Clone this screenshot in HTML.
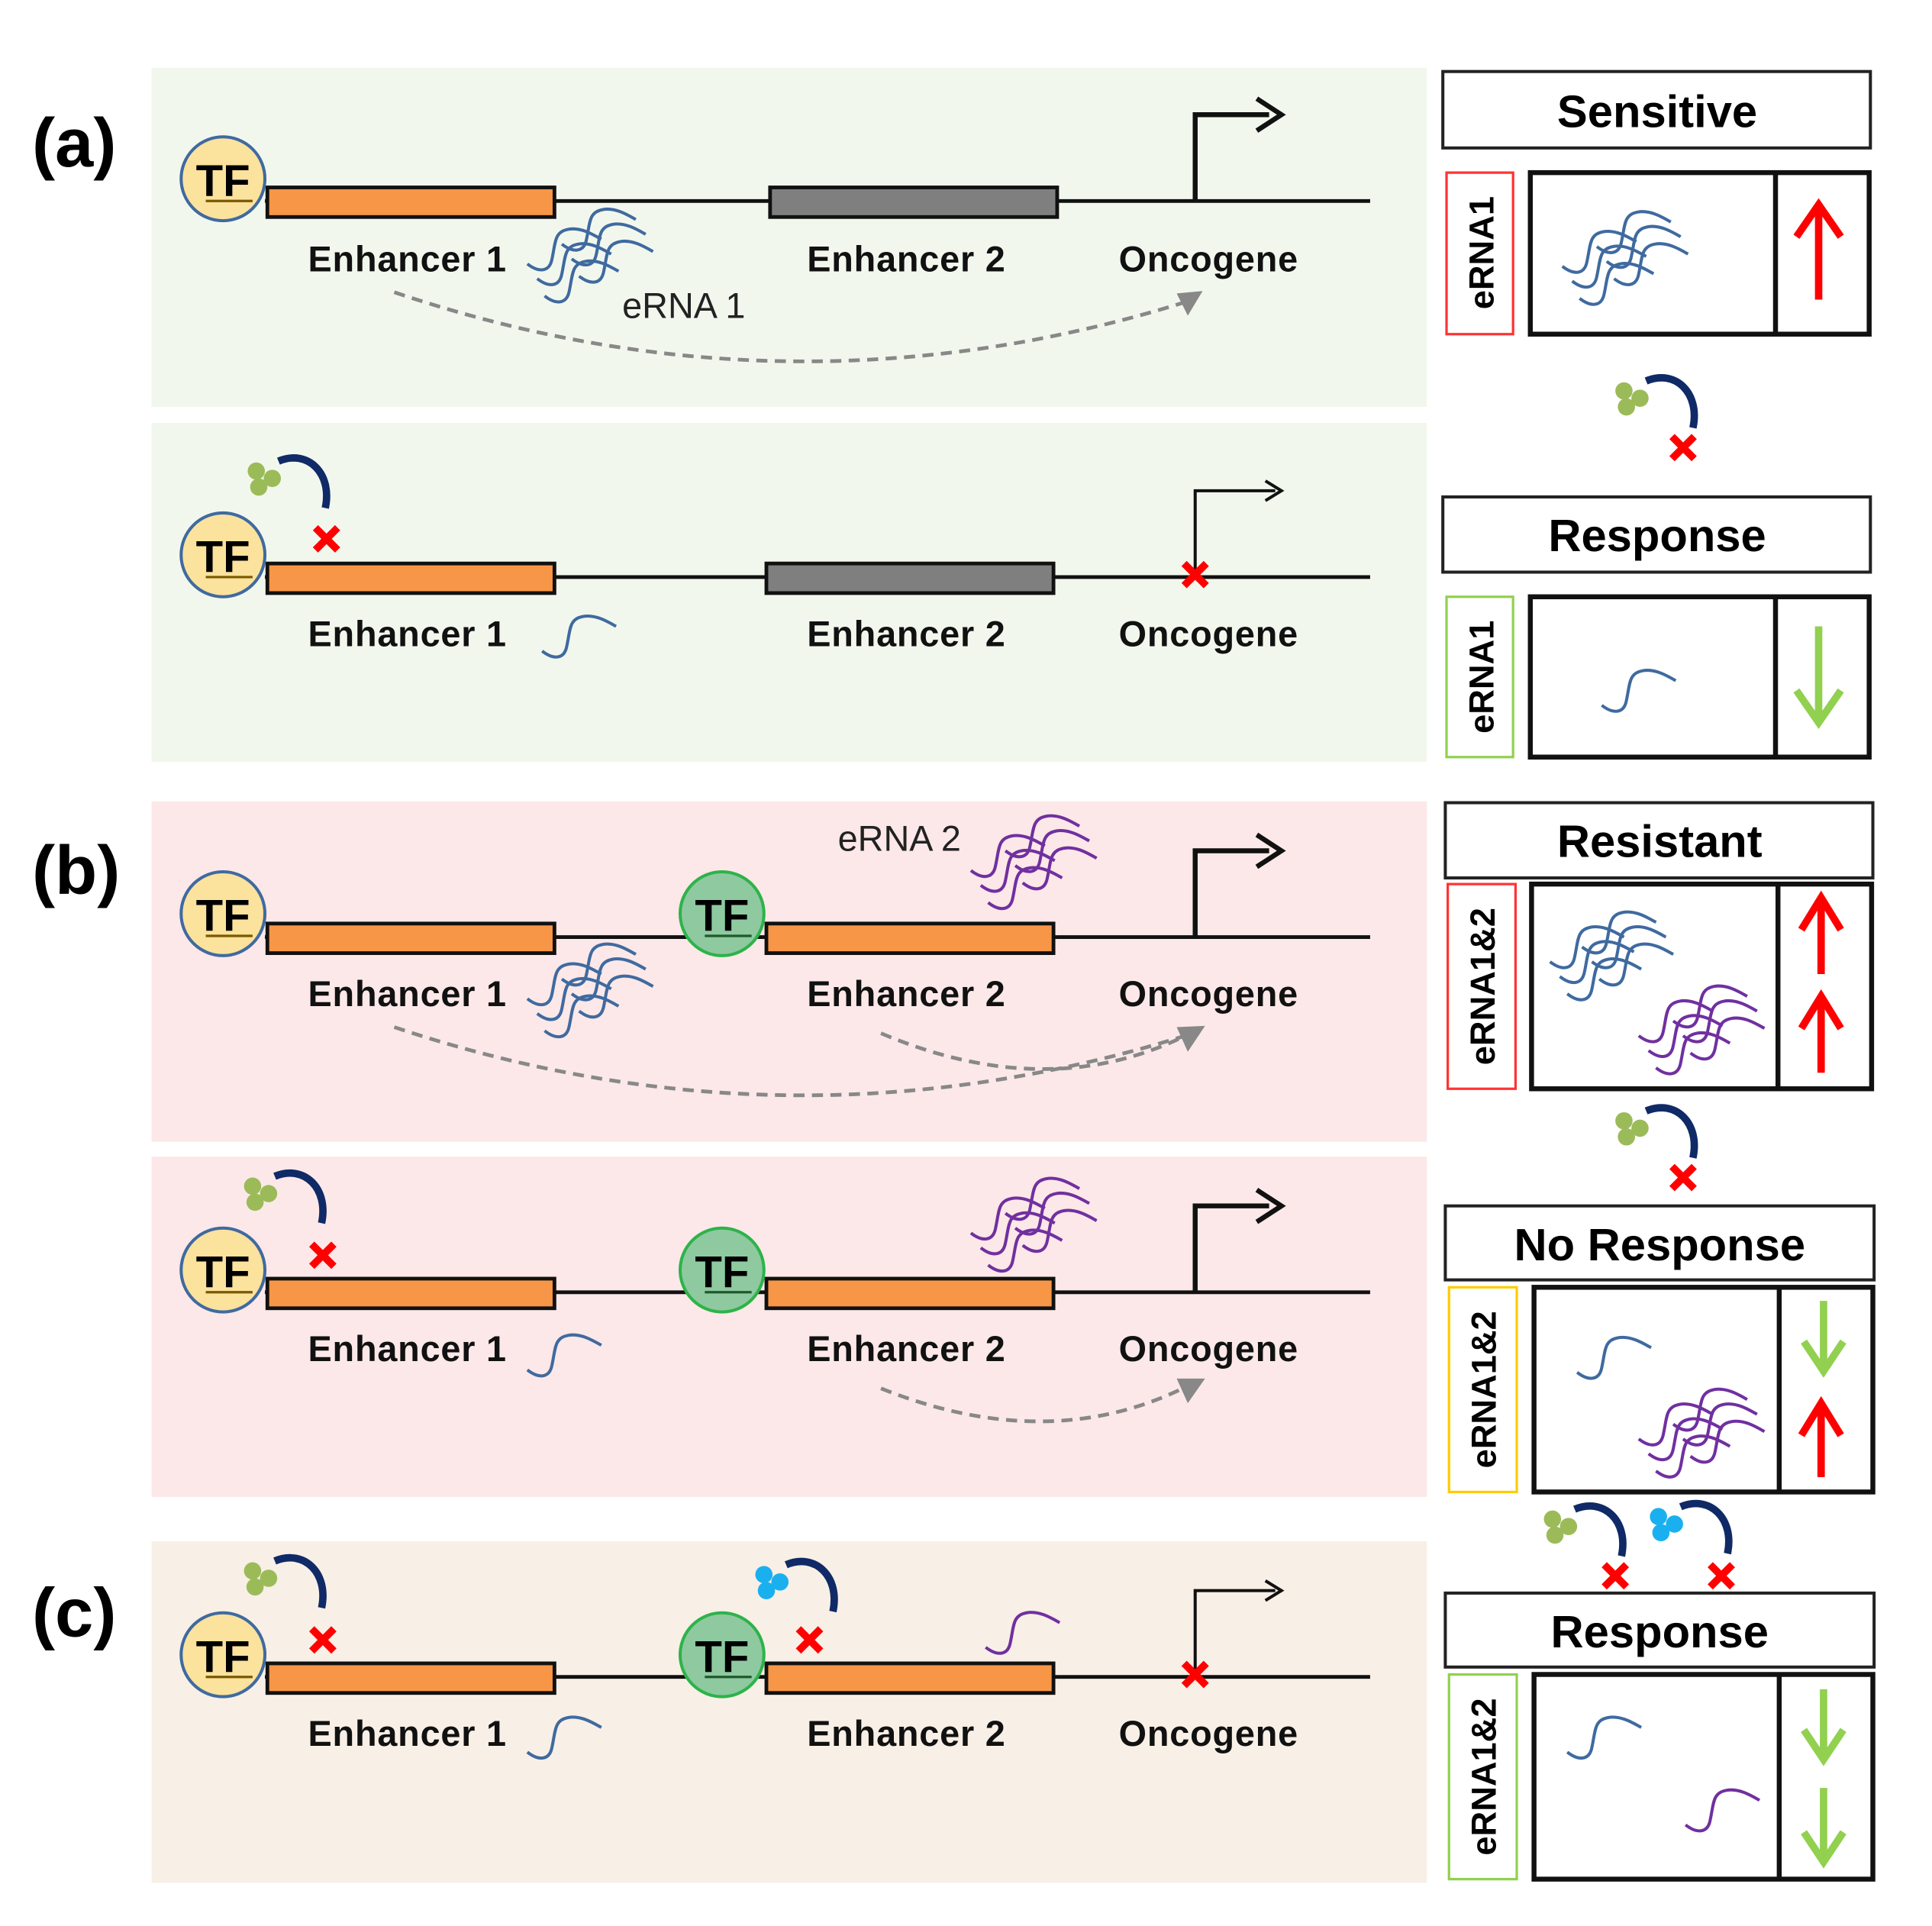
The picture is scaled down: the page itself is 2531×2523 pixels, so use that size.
<!DOCTYPE html>
<html><head><meta charset="utf-8"><style>
html,body{margin:0;padding:0;background:#fff}
svg{display:block}
text{font-family:"Liberation Sans",Arial,sans-serif}
</style></head><body>
<svg width="2531" height="2523" viewBox="0 0 1568 1562" preserveAspectRatio="none" xmlns="http://www.w3.org/2000/svg">
<defs>
<path id="s" d="M0,28 c9,7 18,7 20,-4 c3,-14 2,-22 13,-24 c10,-2 20,4 27,8" fill="none" stroke-width="2.5"/>
<g id="s3">
 <use href="#s" x="0" y="0"/><use href="#s" x="8" y="12"/><use href="#s" x="14" y="26"/>
</g>
<g id="cl">
 <use href="#s3" x="0" y="0"/><use href="#s3" x="28" y="-16"/>
</g>
<g id="tf">
 <circle r="34" fill="#fbe29d" stroke="#3f6aa0" stroke-width="2.5"/>
 <text x="0" y="14" text-anchor="middle" font-size="36" font-weight="bold">TF</text>
 <line x1="-14" y1="18" x2="24" y2="18" stroke="#7a5a00" stroke-width="2"/>
</g>
<g id="tfg">
 <circle r="34" fill="#8fc9a0" stroke="#2db34a" stroke-width="2.5"/>
 <text x="0" y="14" text-anchor="middle" font-size="36" font-weight="bold">TF</text>
 <line x1="-14" y1="18" x2="24" y2="18" stroke="#1e5a2a" stroke-width="2"/>
</g>
<g id="x"><path d="M-9,-9 L9,9 M9,-9 L-9,9" stroke="#f00" stroke-width="6"/></g>
<g id="inhG">
 <circle cx="-10" cy="-8" r="7" fill="#9bbb59"/><circle cx="3" cy="-2" r="7" fill="#9bbb59"/><circle cx="-8" cy="5" r="7" fill="#9bbb59"/>
 <path d="M8,-16 C32,-26 52,-6 46,22" fill="none" stroke="#0f2a66" stroke-width="6"/>
</g>
<g id="inhB">
 <circle cx="-10" cy="-8" r="7" fill="#1ab0f0"/><circle cx="3" cy="-2" r="7" fill="#1ab0f0"/><circle cx="-8" cy="5" r="7" fill="#1ab0f0"/>
 <path d="M8,-16 C32,-26 52,-6 46,22" fill="none" stroke="#0f2a66" stroke-width="6"/>
</g>
</defs>

<rect x="123" y="55" width="1035" height="275" fill="#f2f7ee"/>
<rect x="123" y="343" width="1035" height="275" fill="#f2f7ee"/>
<rect x="123" y="650" width="1035" height="276" fill="#fce8e8"/>
<rect x="123" y="938" width="1035" height="276" fill="#fce8e8"/>
<rect x="123" y="1250" width="1035" height="277" fill="#f8efe6"/>

<g font-size="56" font-weight="bold">
<text x="26" y="135">(a)</text><text x="26" y="725">(b)</text><text x="26" y="1327">(c)</text>
</g>

<g font-size="29" font-weight="bold" fill="#111" letter-spacing="0.5">
<text x="250" y="220">Enhancer 1</text><text x="655" y="220">Enhancer 2</text><text x="908" y="220">Oncogene</text>
<text x="250" y="524">Enhancer 1</text><text x="655" y="524">Enhancer 2</text><text x="908" y="524">Oncogene</text>
<text x="250" y="816">Enhancer 1</text><text x="655" y="816">Enhancer 2</text><text x="908" y="816">Oncogene</text>
<text x="250" y="1104">Enhancer 1</text><text x="655" y="1104">Enhancer 2</text><text x="908" y="1104">Oncogene</text>
<text x="250" y="1416">Enhancer 1</text><text x="655" y="1416">Enhancer 2</text><text x="908" y="1416">Oncogene</text>
</g>

<!-- a1 -->
<line x1="215" y1="163" x2="1112" y2="163" stroke="#111" stroke-width="3"/>
<rect x="217" y="152" width="233" height="24" fill="#f79646" stroke="#111" stroke-width="3"/>
<rect x="625" y="152" width="233" height="24" fill="#7f7f7f" stroke="#111" stroke-width="3"/>
<use href="#tf" x="181" y="145"/>
<path d="M970,163 V93 H1030" fill="none" stroke="#111" stroke-width="4"/><path d="M1020,80 L1040,93 L1020,106" fill="none" stroke="#111" stroke-width="4"/>
<g stroke="#3f6aa0"><use href="#cl" x="428" y="186"/></g>
<text x="505" y="258" font-size="29" fill="#222">eRNA 1</text>
<path d="M320,237 Q640,345 962,245" fill="none" stroke="#888" stroke-width="3" stroke-dasharray="9,6"/>
<path d="M955,238 L976,236 L964,256z" fill="#888"/>

<!-- a2 -->
<line x1="215" y1="468" x2="1112" y2="468" stroke="#111" stroke-width="3"/>
<rect x="217" y="457" width="233" height="24" fill="#f79646" stroke="#111" stroke-width="3"/>
<rect x="622" y="457" width="233" height="24" fill="#7f7f7f" stroke="#111" stroke-width="3"/>
<use href="#tf" x="181" y="450"/>
<path d="M970,468 V398 H1035" fill="none" stroke="#111" stroke-width="2.5"/><path d="M1027,390 L1040,398 L1027,406" fill="none" stroke="#111" stroke-width="2.5"/>
<use href="#x" x="970" y="466"/><use href="#x" x="265" y="437"/>
<use href="#inhG" x="218" y="390"/>
<g stroke="#3f6aa0"><use href="#s" x="440" y="500"/></g>

<!-- b1 -->
<line x1="215" y1="760" x2="1112" y2="760" stroke="#111" stroke-width="3"/>
<rect x="217" y="749" width="233" height="24" fill="#f79646" stroke="#111" stroke-width="3"/>
<rect x="622" y="749" width="233" height="24" fill="#f79646" stroke="#111" stroke-width="3"/>
<use href="#tf" x="181" y="741"/><use href="#tfg" x="586" y="741"/>
<path d="M970,760 V690 H1030" fill="none" stroke="#111" stroke-width="4"/><path d="M1020,677 L1040,690 L1020,703" fill="none" stroke="#111" stroke-width="4"/>
<g stroke="#3f6aa0"><use href="#cl" x="428" y="782"/></g>
<g stroke="#7030a0"><use href="#cl" x="788" y="678"/></g>
<text x="680" y="690" font-size="29" fill="#222">eRNA 2</text>
<path d="M320,833 Q640,940 962,840" fill="none" stroke="#888" stroke-width="3" stroke-dasharray="9,6"/>
<path d="M715,838 Q850,895 962,840" fill="none" stroke="#888" stroke-width="3" stroke-dasharray="9,6"/>
<path d="M955,833 L978,832 L964,853z" fill="#888"/>

<!-- b2 -->
<line x1="215" y1="1048" x2="1112" y2="1048" stroke="#111" stroke-width="3"/>
<rect x="217" y="1037" width="233" height="24" fill="#f79646" stroke="#111" stroke-width="3"/>
<rect x="622" y="1037" width="233" height="24" fill="#f79646" stroke="#111" stroke-width="3"/>
<use href="#tf" x="181" y="1030"/><use href="#tfg" x="586" y="1030"/>
<path d="M970,1048 V978 H1030" fill="none" stroke="#111" stroke-width="4"/><path d="M1020,965 L1040,978 L1020,991" fill="none" stroke="#111" stroke-width="4"/>
<use href="#x" x="262" y="1018"/><use href="#inhG" x="215" y="970"/>
<g stroke="#3f6aa0"><use href="#s" x="428" y="1083"/></g>
<g stroke="#7030a0"><use href="#cl" x="788" y="972"/></g>
<path d="M715,1126 Q850,1180 962,1125" fill="none" stroke="#888" stroke-width="3" stroke-dasharray="9,6"/>
<path d="M955,1118 L978,1118 L964,1138z" fill="#888"/>

<!-- c -->
<line x1="215" y1="1360" x2="1112" y2="1360" stroke="#111" stroke-width="3"/>
<rect x="217" y="1349" width="233" height="24" fill="#f79646" stroke="#111" stroke-width="3"/>
<rect x="622" y="1349" width="233" height="24" fill="#f79646" stroke="#111" stroke-width="3"/>
<use href="#tf" x="181" y="1342"/><use href="#tfg" x="586" y="1342"/>
<path d="M970,1360 V1290 H1035" fill="none" stroke="#111" stroke-width="2.5"/><path d="M1027,1282 L1040,1290 L1027,1298" fill="none" stroke="#111" stroke-width="2.5"/>
<use href="#x" x="262" y="1330"/><use href="#x" x="657" y="1330"/><use href="#x" x="970" y="1358"/>
<use href="#inhG" x="215" y="1282"/><use href="#inhB" x="630" y="1285"/>
<g stroke="#3f6aa0"><use href="#s" x="428" y="1393"/></g>
<g stroke="#7030a0"><use href="#s" x="800" y="1308"/></g>

<!-- right column -->
<g fill="#fff" stroke="#222" stroke-width="2.5">
<rect x="1171" y="58" width="347" height="62"/>
<rect x="1171" y="403" width="347" height="61"/>
<rect x="1173" y="651" width="347" height="61"/>
<rect x="1173" y="978" width="348" height="60"/>
<rect x="1173" y="1292" width="348" height="60"/>
</g>
<g font-size="37" font-weight="bold" text-anchor="middle">
<text x="1345" y="103">Sensitive</text>
<text x="1345" y="447">Response</text>
<text x="1347" y="695">Resistant</text>
<text x="1347" y="1022">No Response</text>
<text x="1347" y="1336">Response</text>
</g>
<rect x="1174" y="140" width="54" height="131" fill="#fff" stroke="#f33" stroke-width="2"/>
<rect x="1174" y="484" width="54" height="130" fill="#fff" stroke="#92d050" stroke-width="2"/>
<rect x="1175" y="717" width="55" height="166" fill="#fff" stroke="#f33" stroke-width="2"/>
<rect x="1176" y="1044" width="55" height="166" fill="#fff" stroke="#fc0" stroke-width="2"/>
<rect x="1176" y="1358" width="55" height="166" fill="#fff" stroke="#92d050" stroke-width="2"/>
<g font-size="28" font-weight="bold" text-anchor="middle">
<text transform="translate(1212,205) rotate(-90)">eRNA1</text>
<text transform="translate(1212,549) rotate(-90)">eRNA1</text>
<text transform="translate(1213,800) rotate(-90)">eRNA1&amp;2</text>
<text transform="translate(1214,1127) rotate(-90)">eRNA1&amp;2</text>
<text transform="translate(1214,1441) rotate(-90)">eRNA1&amp;2</text>
</g>
<g fill="none" stroke="#111" stroke-width="4">
<rect x="1242" y="140" width="275" height="131"/><line x1="1441" y1="140" x2="1441" y2="271"/>
<rect x="1242" y="484" width="275" height="130"/><line x1="1441" y1="484" x2="1441" y2="614"/>
<rect x="1243" y="717" width="276" height="166"/><line x1="1443" y1="717" x2="1443" y2="883"/>
<rect x="1245" y="1044" width="275" height="166"/><line x1="1444" y1="1044" x2="1444" y2="1210"/>
<rect x="1245" y="1358" width="275" height="166"/><line x1="1444" y1="1358" x2="1444" y2="1524"/>
</g>
<g stroke-width="6" fill="none" stroke-linejoin="miter">
<g stroke="#f00"><path d="M1476,243 V168 M1458,192 L1476,166 L1494,192"/>
<path d="M1478,790 V730 M1462,754 L1478,728 L1494,754"/>
<path d="M1478,870 V810 M1462,834 L1478,808 L1494,834"/>
<path d="M1478,1198 V1140 M1462,1164 L1478,1138 L1494,1164"/></g>
<g stroke="#92d050"><path d="M1476,508 V583 M1458,560 L1476,586 L1494,560"/>
<path d="M1480,1055 V1110 M1464,1088 L1480,1112 L1496,1088"/>
<path d="M1480,1370 V1425 M1464,1403 L1480,1427 L1496,1403"/>
<path d="M1480,1450 V1508 M1464,1486 L1480,1510 L1496,1486"/></g>
</g>
<g stroke="#3f6aa0"><use href="#cl" x="1268" y="188"/><use href="#s" x="1300" y="544"/>
<use href="#s3" x="1258" y="752"/><use href="#s3" x="1284" y="740"/>
<use href="#s" x="1280" y="1085"/><use href="#s" x="1272" y="1393"/></g>
<g stroke="#7030a0"><use href="#s3" x="1330" y="812"/><use href="#s3" x="1358" y="800"/>
<use href="#s3" x="1330" y="1139"/><use href="#s3" x="1358" y="1127"/>
<use href="#s" x="1368" y="1452"/></g>
<use href="#inhG" x="1328" y="325"/><use href="#x" x="1366" y="363"/>
<use href="#inhG" x="1328" y="917"/><use href="#x" x="1366" y="955"/>
<use href="#inhG" x="1270" y="1240"/><use href="#x" x="1311" y="1278"/>
<use href="#inhB" x="1356" y="1238"/><use href="#x" x="1397" y="1278"/>
</svg>
</body></html>
